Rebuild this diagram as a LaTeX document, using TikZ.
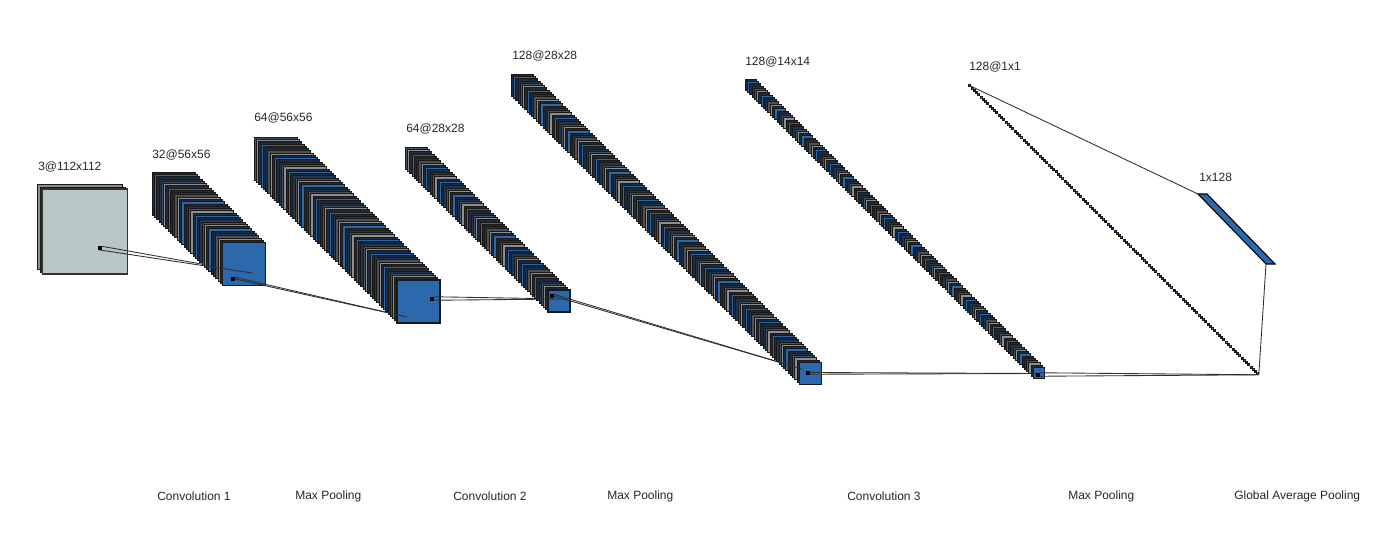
\documentclass[tikz,border=0pt]{standalone}
\usepackage{fontspec}
\setmainfont{Liberation Sans}
\definecolor{fmapblue}{HTML}{2B68AC}
\definecolor{fmapnavy}{HTML}{1F3652}
\definecolor{fmapdark}{HTML}{1C2A3C}
\definecolor{fmapgray}{HTML}{8C8E8F}
\definecolor{fmapslate}{HTML}{4C5155}
\definecolor{fmapinput}{HTML}{B9C6C6}
\definecolor{linkgray}{HTML}{303030}
\tikzset{
	layer/.style={draw=black!90,line width=0.5pt,inner sep=0pt,outer sep=0pt,anchor=north west},
	port/.style={draw=black,fill=black,inner sep=0pt,outer sep=0pt,minimum size=2.6pt,line width=0.4pt},
	link/.style={draw=linkgray,line width=0.65pt},
	lbl/.style={font=\fontsize{9pt}{10pt}\selectfont,text=black!85,anchor=west,inner sep=0pt}
}
% name, x, y of the back layer, number of layers, side in px
\newcommand{\filterstack}[5]{
	\foreach \i in {1,...,#4} {
		\pgfmathtruncatemacro{\k}{mod(#4-\i,6)}
		\ifcase\k \def\c{fmapblue}\or \def\c{fmapdark}\or \def\c{fmapgray}\or \def\c{fmapslate}\or \def\c{fmapnavy}\or \def\c{fmapdark}\fi
		\ifnum\i=#4 \def\w{1pt}\else \def\w{0.4pt}\fi
		\node [layer,fill=\c,line width=\w,minimum size=#5*0.75pt] (#1-\i) at ({#2+(\i-1)*2.27},{#3+(\i-1)*2.27}) {};
	}
}

\begin{document}
\begin{tikzpicture}[x=0.75pt,y=-0.75pt]
	\useasboundingbox (0,0) rectangle (1398,546);

	% input
	\node [layer,fill=fmapgray,minimum size=85*0.75pt] (inputA) at (37.5,184.5) {};
	\node [layer,fill=fmapnavy,minimum size=85*0.75pt] (inputB) at (40,187) {};
	\node [layer,fill=fmapinput,minimum size=85*0.75pt,draw=black!80,line width=1.1pt] (inputC) at (42.5,189) {};
	\node [port] (portA) at (100,248) {};

	% feature maps
	\coordinate (tipA) at (252,273);
	\draw [link] (portA.north east) -- (tipA);
	\filterstack{convA}{152}{172}{32}{43}
	\draw [link] (portA.south west) -- (tipA);
	\node [port] (portB) at (233,279) {};

	\coordinate (tipB) at (407,317);
	\draw [link] (portB.north east) -- (tipB);
	\filterstack{poolA}{254}{137}{64}{43}
	\draw [link] (portB.east) -- (tipB);
	\node [port] (portC) at (432,298.5) {};

	\coordinate (tipC) at (567,299);
	\draw [link] (portC.north east) -- (tipC);
	\filterstack{convB}{405}{147}{64}{22}
	\draw [link] (portC.south east) -- (tipC);
	\node [port] (portD) at (552,296) {};

	\coordinate (tipD) at (802,369);
	\draw [link] (portD.north east) -- (tipD);
	\filterstack{poolB}{511}{74}{128}{22}
	\draw [link] (portD.east) -- (tipD);
	\node [port] (portE) at (808,372.5) {};

	\coordinate (tipE) at (1040,373.5);
	\draw [link] (portE.east) -- (tipE);
	\filterstack{convC}{745}{79}{128}{11}
	\draw [link] (portE.south east) -- (tipE);
	\node [port] (portF) at (1038,374.5) {};

	\filterstack{poolC}{968.5}{84.5}{128}{2}
	\draw [link] (portF.north east) -- (poolC-128.south east);
	\draw [link] (portF.south east) -- (poolC-128.south east);

	% flattened vector
	\coordinate (flatA) at (1198,194);
	\coordinate (flatB) at (1207,194);
	\coordinate (flatC) at (1275,264);
	\coordinate (flatD) at (1266,264);
	\draw [link] (poolC-1.center) -- (flatA);
	\draw [link] (poolC-128.south east) -- (flatD);
	\draw [draw=black,fill=fmapblue,line width=0.8pt] (flatA) -- (flatB) -- (flatC) -- (flatD) -- cycle;

	% sizes
	\node [lbl] (sizeA) at (38,167) {3@112x112};
	\node [lbl] (sizeB) at (152,155) {32@56x56};
	\node [lbl] (sizeC) at (254,118) {64@56x56};
	\node [lbl] (sizeD) at (406,129) {64@28x28};
	\node [lbl] (sizeE) at (512,56) {128@28x28};
	\node [lbl] (sizeF) at (745,62) {128@14x14};
	\node [lbl] (sizeG) at (969,67) {128@1x1};
	\node [lbl] (sizeH) at (1199,177) {1x128};

	% operations
	\node [lbl] (opA) at (157,496) {Convolution 1};
	\node [lbl] (opB) at (295,496) {Max Pooling};
	\node [lbl] (opC) at (453,496) {Convolution 2};
	\node [lbl] (opD) at (607,496) {Max Pooling};
	\node [lbl] (opE) at (847,496) {Convolution 3};
	\node [lbl] (opF) at (1068,496) {Max Pooling};
	\node [lbl] (opG) at (1234,496) {Global Average Pooling};
\end{tikzpicture}
\end{document}
